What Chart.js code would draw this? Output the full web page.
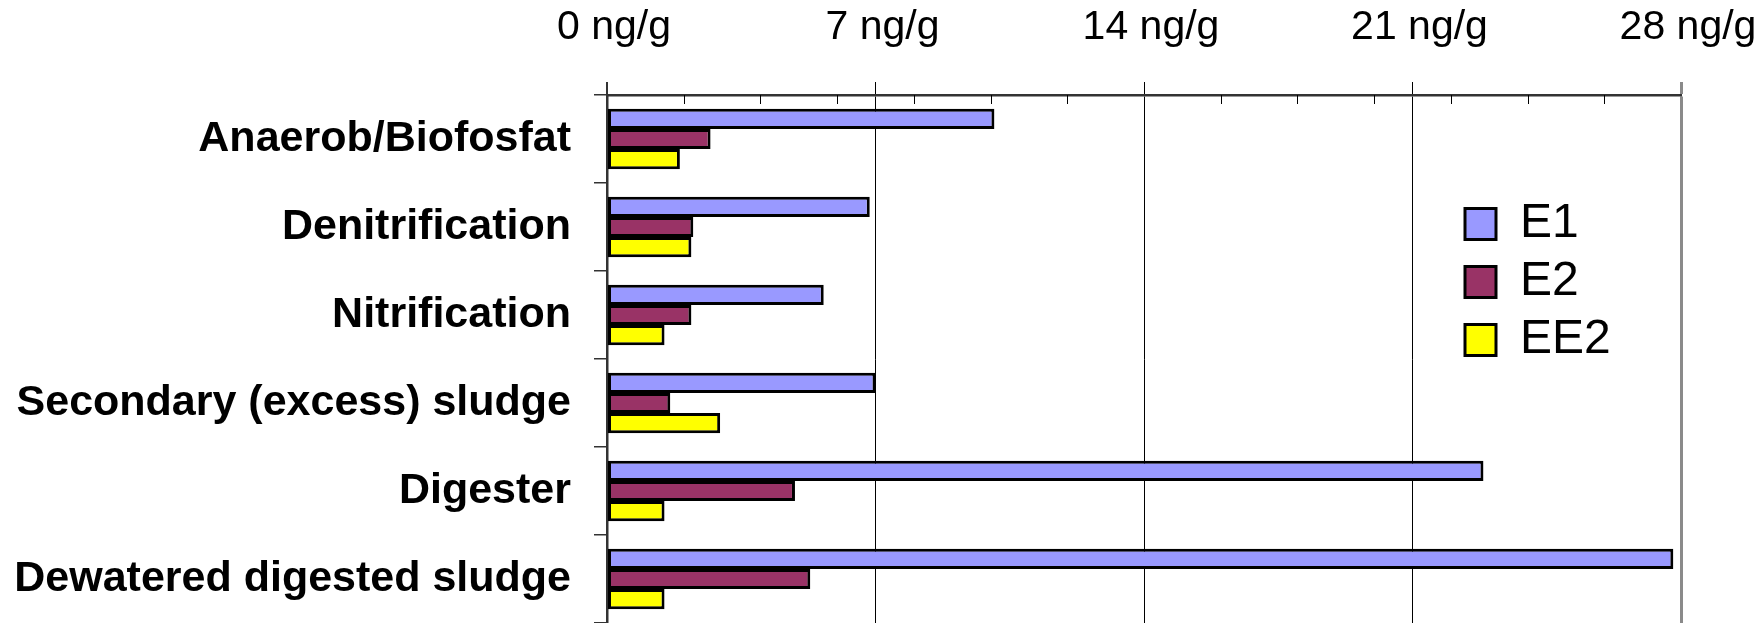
<!DOCTYPE html>
<html>
<head>
<meta charset="utf-8">
<script src="https://cdn.jsdelivr.net/npm/chart.js@4.4.1/dist/chart.umd.min.js"></script>
<style>
    html, body { margin: 0; padding: 0; background: #fff; }
    canvas { display: block; }
</style>
</head>
<body>
<canvas id="myChart" width="1763" height="623"></canvas>
<script>
// --data (ng/g)--
const categories = ['Anaerob/Biofosfat', 'Denitrification', 'Nitrification', 'Secondary (excess) sludge', 'Digester', 'Dewatered digested sludge'];
const seriesNames = ['E1', 'E2', 'EE2'];
const e1Values = [10.1, 6.85, 5.65, 7.0, 22.85, 27.8];
const e2Values = [2.7, 2.25, 2.2, 1.65, 4.9, 5.3];
const ee2Values = [1.9, 2.2, 1.5, 2.95, 1.5, 1.5];
// axis ticks
const axisMin = 0;
const axisMax = 28;
const majorStep = 7;
const minorTicks = [2, 4, 6, 8, 10, 12, 16, 18, 20, 22, 24, 26];
const tickUnit = 'ng/g';
//------------

Chart.defaults.font.family = '"Liberation Sans", Arial, sans-serif';
Chart.defaults.color = '#000';

// small tick marks every 2 units, hanging under the top axis line
const minorTickPlugin = {
    id: 'minorTicks',
    afterDraw(chart) {
        const ctx = chart.ctx;
        const xScale = chart.scales.x;
        const top = chart.chartArea.top;
        ctx.save();
        ctx.strokeStyle = '#000';
        ctx.lineWidth = 1;
        minorTicks.forEach(v => {
            const px = Math.round(xScale.getPixelForValue(v)) + 0.5;
            ctx.beginPath();
            ctx.moveTo(px, top);
            ctx.lineTo(px, top + 9);
            ctx.stroke();
        });
        ctx.restore();
    }
};

// legend sits inside the plot, on the right
const legendPlacer = {
    id: 'legendPlacer',
    afterLayout(chart) {
        const lg = chart.legend;
        const w = lg.width;
        const h = lg.height;
        lg.left = 1455;
        lg.top = 190;
        lg.right = lg.left + w;
        lg.bottom = lg.top + h;
    }
};

const ctx = document.getElementById('myChart');

const myChart = new Chart(ctx, {
    type: 'bar',
    data: {
        labels: categories,
        datasets: [{
            label: seriesNames[0],
            data: e1Values,
            backgroundColor: '#9999FF',
            borderColor: '#000',
            borderWidth: 3,
            borderSkipped: false
        }, {
            label: seriesNames[1],
            data: e2Values,
            backgroundColor: '#993366',
            borderColor: '#000',
            borderWidth: 3,
            borderSkipped: false
        }, {
            label: seriesNames[2],
            data: ee2Values,
            backgroundColor: '#FFFF00',
            borderColor: '#000',
            borderWidth: 3,
            borderSkipped: false
        }]
    },
    options: {
        indexAxis: 'y',
        responsive: false,
        animation: false,
        devicePixelRatio: 1,
        categoryPercentage: 0.69,
        barPercentage: 1.0,
        layout: { padding: { left: 0, top: 0, right: 82, bottom: 0 } },
        plugins: {
            tooltip: { enabled: false },
            legend: {
                position: 'chartArea',
                align: 'start',
                labels: {
                    font: { size: 48 },
                    boxWidth: 31,
                    boxHeight: 31,
                    padding: 10,
                    color: '#000'
                }
            }
        },
        scales: {
            x: {
                type: 'linear',
                position: 'top',
                min: axisMin,
                max: axisMax,
                ticks: {
                    stepSize: majorStep,
                    font: { size: 41 },
                    padding: 30,
                    labelOffset: 7,
                    maxRotation: 0,
                    callback: v => `${v} ${tickUnit}`
                },
                grid: {
                    color: c => c.tick && c.tick.value === axisMax ? '#8a8a8a' : (c.tick && c.tick.value === axisMin ? '#333' : '#000'),
                    lineWidth: c => c.tick && c.tick.value === axisMax ? 3 : (c.tick && c.tick.value === axisMin ? 2 : 1),
                    tickLength: 13
                },
                border: { display: true, color: '#333', width: 2.5 },
                afterFit: scale => {
                    scale.height = 95;
                    scale.paddingLeft = 0;
                    scale.paddingRight = 0;
                }
            },
            y: {
                type: 'category',
                offset: true,
                ticks: {
                    font: { size: 43, weight: 'bold' },
                    padding: 23
                },
                grid: {
                    offset: true,
                    drawOnChartArea: false,
                    color: '#333',
                    lineWidth: 1.5,
                    tickLength: 13
                },
                border: { display: true, color: '#333', width: 2.5 },
                afterFit: scale => {
                    scale.width = 607;
                    scale.paddingTop = 0;
                    scale.paddingBottom = 0;
                }
            }
        }
    },
    plugins: [minorTickPlugin, legendPlacer]
});
</script>
</body>
</html>
